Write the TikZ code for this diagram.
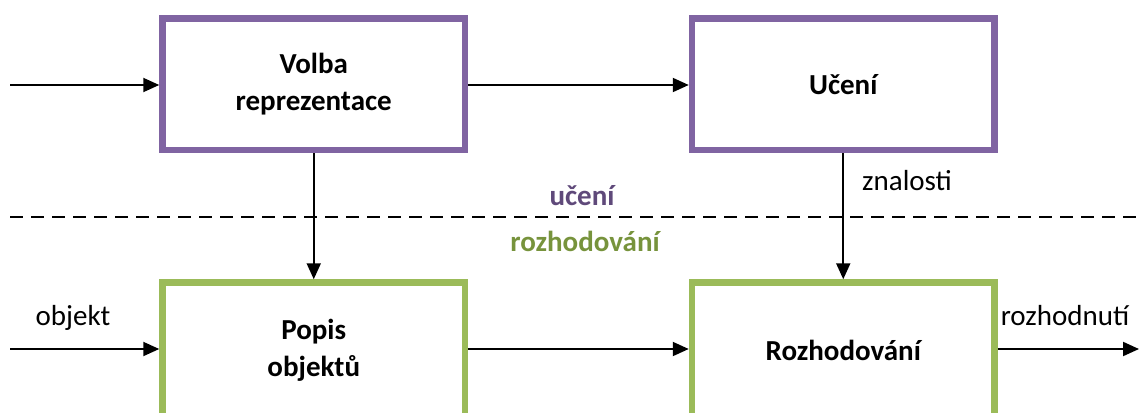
\documentclass[tikz,border=0pt]{standalone}
\usepackage{fontspec}
\setmainfont{Carlito}
\usetikzlibrary{arrows.meta}
\definecolor{learnpurple}{HTML}{8064A2}
\definecolor{learnpurpledark}{HTML}{5F497A}
\definecolor{decgreen}{HTML}{9BBB59}
\definecolor{decgreendark}{HTML}{77933C}
\tikzset{
  block/.style={draw, line width=6.5pt, fill=white, minimum width=302.5pt,
    minimum height=131.5pt, inner sep=0pt, align=center,
    font=\fontsize{29}{37}\selectfont\bfseries},
  learnbox/.style={block, draw=learnpurple},
  decbox/.style={block, draw=decgreen, minimum height=135pt},
  flow/.style={line width=2pt, -{Triangle[length=16pt,width=14pt]}},
  lbl/.style={font=\fontsize{29}{34}\selectfont, inner sep=0pt},
  zone/.style={font=\fontsize{29}{34}\selectfont\bfseries, inner sep=0pt}
}
\begin{document}
\begin{tikzpicture}[x=1pt,y=-1pt]
  \useasboundingbox (0,0) rectangle (1139,412);

  % separator between the learning and decision phases
  \coordinate (sepL) at (10,216.5);
  \coordinate (sepR) at (1139,216.5);
  \draw[line width=2pt, dash pattern=on 13pt off 8pt] (sepL) -- (sepR);

  % blocks
  \node[learnbox] (volba) at (313.75,84.25) {Volba\\reprezentace};
  \node[learnbox] (uceni) at (843.25,84.25) {Učení};
  \node[decbox] (popis) at (313.75,350) {Popis\\objektů};
  \node[decbox] (rozh) at (843.25,350) {Rozhodování};

  % free ends
  \coordinate (inTop) at (10,85);
  \coordinate (inBot) at (10,349);
  \coordinate (out) at (1139,349);

  % connectors
  \draw[flow] (inTop) -- (volba.west |- inTop);
  \draw[flow] (volba.east |- inTop) -- (uceni.west |- inTop);
  \draw[flow] (volba.south) -- (popis.north);
  \draw[flow] (uceni.south) -- (rozh.north);
  \draw[flow] (inBot) -- (popis.west |- inBot);
  \draw[flow] (popis.east |- inBot) -- (rozh.west |- inBot);
  \draw[flow] (rozh.east |- out) -- (out);

  % labels
  \node[zone, text=learnpurpledark] (lblLearn) at (582,196) {učení};
  \node[zone, text=decgreendark] (lblDec) at (585,241) {rozhodování};
  \node[lbl, anchor=west] (lblKnow) at (862,181) {znalosti};
  \node[lbl] (lblObj) at (73,318) {objekt};
  \node[lbl] (lblOut) at (1065,316) {rozhodnutí};
\end{tikzpicture}
\end{document}
